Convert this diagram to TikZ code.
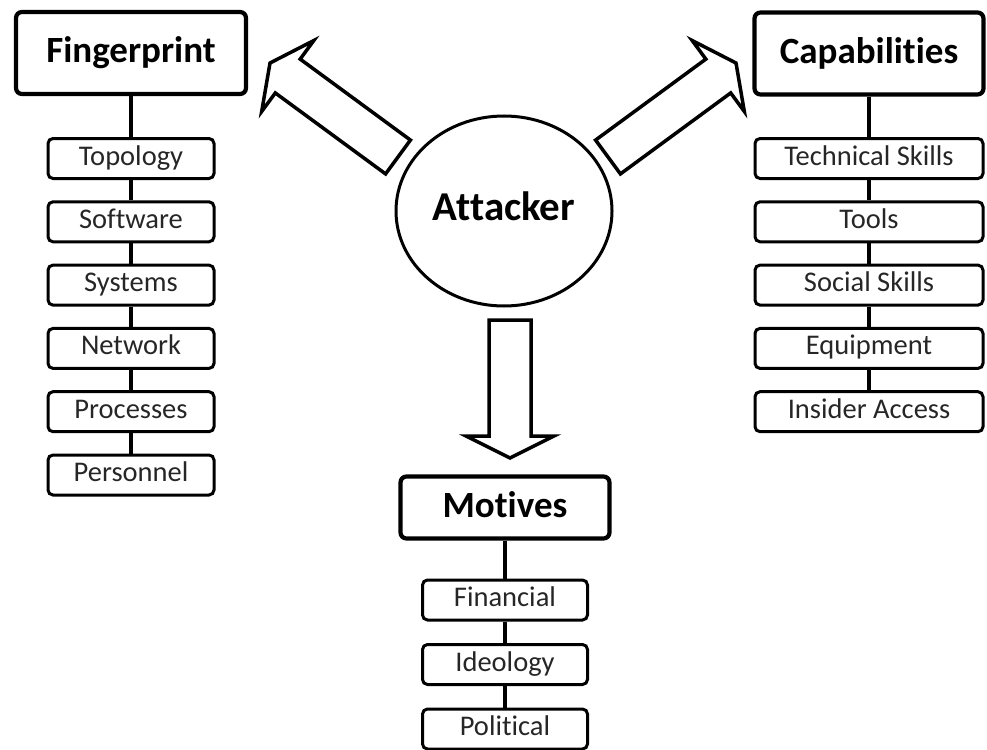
\documentclass[tikz,border=0pt]{standalone}
\usepackage{fontspec}
\setmainfont{Carlito}[Ligatures=NoCommon]
\usetikzlibrary{calc,shapes.geometric}

% hollow block arrow from a tail coordinate to a tip coordinate
\newcommand{\blockarrow}[2]{%
  \coordinate (hb) at ($(#2)!22pt!(#1)$);
  \draw[blockarr]
    ($(#1)!21pt!90:(#2)$) -- ($(hb)!21pt!90:(#2)$) -- ($(hb)!44pt!90:(#2)$)
    -- (#2)
    -- ($(hb)!44pt!-90:(#2)$) -- ($(hb)!21pt!-90:(#2)$) -- ($(#1)!21pt!-90:(#2)$)
    -- cycle;
}

\begin{document}
\begin{tikzpicture}[x=1pt,y=-1pt,
  title/.style={draw, line width=4.2pt, rounded corners=6pt,
    minimum width=#1, minimum height=82pt, inner sep=0pt,
    text height=26pt, text depth=6pt,
    font=\fontsize{37}{40}\selectfont\bfseries},
  item/.style={draw, line width=3pt, rounded corners=5pt,
    minimum width=#1, minimum height=40pt, inner sep=0pt,
    text height=19pt, text depth=6pt, text=black!85,
    font=\fontsize{28.5}{30}\selectfont},
  link/.style={line width=4pt},
  blockarr/.style={line width=3.5pt, line join=miter}]

\useasboundingbox (0,0) rectangle (987,749);

% centre
\node[draw, ellipse, line width=3pt, minimum width=216pt, minimum height=190pt,
  inner sep=0pt, font=\fontsize{41}{44}\selectfont\bfseries,
  text height=27pt, text depth=9pt] (atk) at (504,211) {Attacker};

% fingerprint column
\node[title=230pt] (fp) at (131,53) {Fingerprint};
\foreach \t [count=\i] in {Topology,Software,Systems,Network,Processes,Personnel}
  \node[item=166pt] (fp\i) at (131,{158.5+63.3*(\i-1)}) {\t};
\draw[link] (fp.south) -- (fp1.north);
\foreach \i [evaluate=\i as \j using int(\i+1)] in {1,...,5}
  \draw[link] (fp\i.south) -- (fp\j.north);

% capabilities column
\node[title=229pt] (cap) at (869,53.5) {Capabilities};
\foreach \t [count=\i] in {Technical Skills,Tools,Social Skills,Equipment,Insider Access}
  \node[item=228pt] (cap\i) at (869,{158.5+63.3*(\i-1)}) {\t};
\draw[link] (cap.south) -- (cap1.north);
\foreach \i [evaluate=\i as \j using int(\i+1)] in {1,...,4}
  \draw[link] (cap\i.south) -- (cap\j.north);

% motives column
\node[title=209pt, minimum height=62pt] (mot) at (505,507.5) {Motives};
\foreach \t [count=\i] in {Financial,Ideology,Political}
  \node[item=165pt] (mot\i) at (505,{600+64.5*(\i-1)}) {\t};
\draw[link] (mot.south) -- (mot1.north);
\foreach \i [evaluate=\i as \j using int(\i+1)] in {1,2}
  \draw[link] (mot\i.south) -- (mot\j.north);

% block arrows leaving the attacker
\coordinate (fpTail) at (398,157);
\coordinate (fpTip) at (270,63);
\coordinate (capTail) at (608,157);
\coordinate (capTip) at (736,63);
\coordinate (motTail) at (510,320);
\coordinate (motTip) at (510,458);
\blockarrow{fpTail}{fpTip}
\blockarrow{capTail}{capTip}
\blockarrow{motTail}{motTip}

\end{tikzpicture}
\end{document}
